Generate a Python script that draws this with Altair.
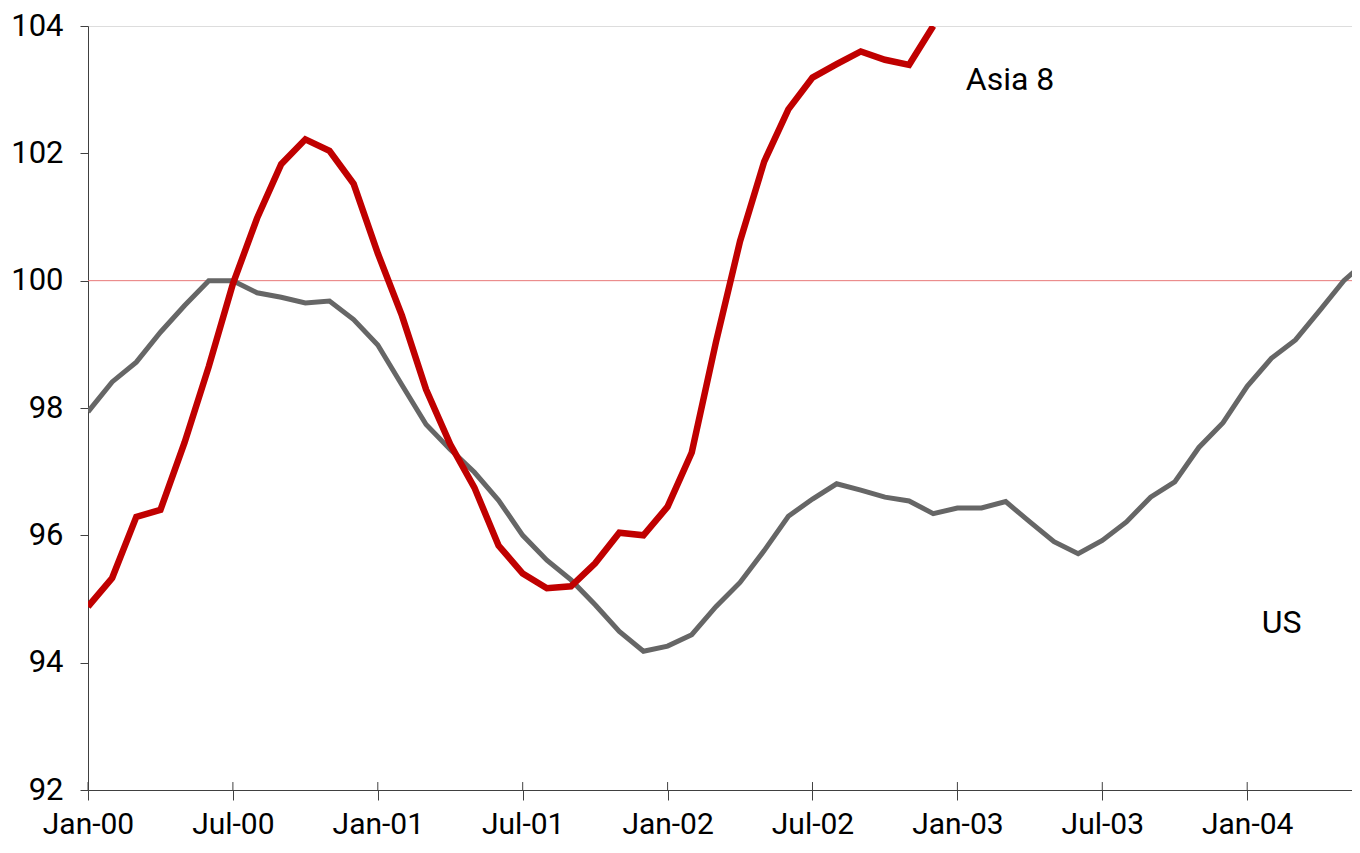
import altair as alt
import pandas as pd

# ---- data ----
tick_months = [0, 6, 12, 18, 24, 30, 36, 42, 48]
tick_labels = ["Jan-00", "Jul-00", "Jan-01", "Jul-01", "Jan-02",
               "Jul-02", "Jan-03", "Jul-03", "Jan-04"]
y_ticks = [92, 94, 96, 98, 100, 102, 104]

asia8 = [94.88, 95.33, 96.29, 96.40, 97.46, 98.65, 99.95, 100.98, 101.83, 102.22,
         102.04, 101.52, 100.43, 99.45, 98.29, 97.43, 96.75, 95.84, 95.40, 95.17,
         95.20, 95.56, 96.04, 96.00, 96.45, 97.30, 99.03, 100.62, 101.87, 102.69,
         103.19, 103.40, 103.60, 103.47, 103.39, 104.00]
us = [97.94, 98.41, 98.72, 99.19, 99.61, 100.00, 100.00, 99.81, 99.74, 99.65,
      99.68, 99.39, 98.99, 98.36, 97.74, 97.35, 96.99, 96.55, 96.00, 95.61,
      95.30, 94.91, 94.49, 94.18, 94.26, 94.44, 94.88, 95.26, 95.76, 96.30,
      96.57, 96.81, 96.71, 96.60, 96.54, 96.34, 96.43, 96.43, 96.53, 96.21,
      95.90, 95.71, 95.92, 96.21, 96.60, 96.84, 97.38, 97.77, 98.34, 98.78,
      99.07, 99.53, 100.00, 100.33]

labels_text = ["Asia 8", "US"]
labels_x = [36.35, 48.6]
labels_y = [103.0, 94.46]

reference_level = 100

# ---- tables ----
asia_df = pd.DataFrame({"month": list(range(len(asia8))), "value": asia8})
us_df = pd.DataFrame({"month": list(range(len(us))), "value": us})
lab_df = pd.DataFrame({"text": labels_text, "month": labels_x, "value": labels_y})
tick_df = pd.DataFrame({"month": tick_months, "lo": [92] * len(tick_months),
                        "hi": [92.125] * len(tick_months)})
ref_df = pd.DataFrame({"value": [reference_level]})

FONT = "Roboto"
AXIS_COLOR = "#404040"

label_expr = "[" + ",".join("'%s'" % l for l in tick_labels) + "][round(datum.value/6)]"

# 24.15 px per month, plot 1264 px wide
x_scale = alt.Scale(domain=[0, 52.34], nice=False, zero=False)
y_scale = alt.Scale(domain=[92, 104], nice=False, zero=False)

x_axis = alt.Axis(values=tick_months, labelExpr=label_expr, title=None, grid=False,
                  tickSize=10, tickColor=AXIS_COLOR, domainColor=AXIS_COLOR,
                  labelFont=FONT, labelFontSize=30, labelColor="#000000",
                  labelPadding=9, labelFlush=False, labelOverlap=False)
y_axis = alt.Axis(values=y_ticks, title=None, grid=False, tickSize=8,
                  tickColor=AXIS_COLOR, domainColor=AXIS_COLOR,
                  labelFont=FONT, labelFontSize=31, labelColor="#000000",
                  labelPadding=17, labelFlush=False, labelOverlap=False)

ref = alt.Chart(ref_df).mark_rule(color="#E87878", strokeWidth=1).encode(
    y=alt.Y("value:Q", scale=y_scale, axis=y_axis)
)

us_line = alt.Chart(us_df).mark_line(color="#666666", strokeWidth=5, clip=True,
                                     strokeJoin="miter").encode(
    x=alt.X("month:Q", scale=x_scale, axis=x_axis),
    y=alt.Y("value:Q", scale=y_scale, axis=y_axis),
)

asia_line = alt.Chart(asia_df).mark_line(color="#C00000", strokeWidth=6.5, clip=True,
                                         strokeJoin="miter").encode(
    x=alt.X("month:Q", scale=x_scale, axis=x_axis),
    y=alt.Y("value:Q", scale=y_scale, axis=y_axis),
)

inner_ticks = alt.Chart(tick_df).mark_rule(color=AXIS_COLOR, strokeWidth=1).encode(
    x=alt.X("month:Q", scale=x_scale, axis=x_axis),
    y=alt.Y("lo:Q", scale=y_scale, axis=y_axis),
    y2="hi:Q",
)

texts = alt.Chart(lab_df).mark_text(font=FONT, fontSize=32, align="left",
                                    baseline="alphabetic", color="#000000").encode(
    x=alt.X("month:Q", scale=x_scale, axis=x_axis),
    y=alt.Y("value:Q", scale=y_scale, axis=y_axis),
    text="text:N",
)

chart = alt.layer(ref, us_line, asia_line, inner_ticks, texts).properties(
    width=1264, height=764,
    autosize=alt.AutoSizeParams(type="none"),
    padding={"left": 80, "top": 18, "right": 0, "bottom": 55},
).configure_view(strokeWidth=0).configure(background="white")

chart.save("out.html", embed_options={"renderer": "svg", "actions": False})
